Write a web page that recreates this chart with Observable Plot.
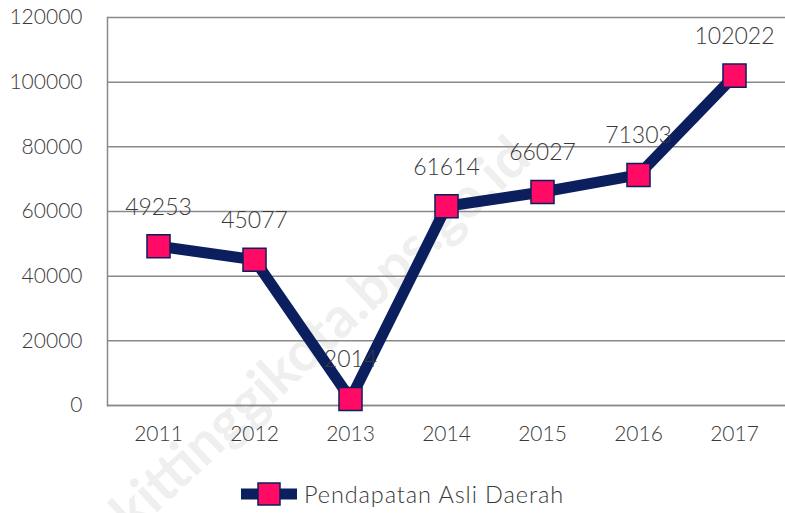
<!DOCTYPE html>
<html>
<head>
<meta charset="utf-8">
<script src="https://cdn.jsdelivr.net/npm/d3@7"></script>
<script src="https://cdn.jsdelivr.net/npm/@observablehq/plot@0.6"></script>
<style>
  html, body { margin: 0; padding: 0; background: #fff; }
  #wrap { position: relative; width: 785px; height: 513px; overflow: hidden; font-family: Lato, "Open Sans", sans-serif; }
  #wm { position: absolute; left: 72px; top: 535px; font-size: 56px; line-height: 1; font-weight: 700; color: #efefef; transform: rotate(-43deg); transform-origin: left center; white-space: nowrap; pointer-events: none; }
  #legend { position: absolute; left: 10px; top: 474px; width: 785px; height: 39px; display: flex; justify-content: center; align-items: center; font-size: 23.5px; letter-spacing: 0.9px; font-weight: 300; color: #3a3a3a; }
  #legend svg { margin-right: 7px; }
  #chart { position: relative; }
</style>
</head>
<body>
<div id="wrap">
  <div id="wm">bukittinggikota.bps.go.id</div>
  <div id="chart"></div>
  <div id="legend"></div>
</div>
<script>
const years = ["2011", "2012", "2013", "2014", "2015", "2016", "2017"];
const values = [49253, 45077, 2014, 61614, 66027, 71303, 102022];
const yTicks = [0, 20000, 40000, 60000, 80000, 100000, 120000];
const seriesName = "Pendapatan Asli Daerah";

const data = years.map((y, i) => ({year: y, value: values[i]}));
const lineColor = "#0b1f5e";
const markerColor = "#ff0a64";
const textColor = "#3a3a3a";
const font = "Lato, 'Open Sans', sans-serif";

const chart = Plot.plot({
  width: 785,
  height: 470,
  marginTop: 17,
  marginBottom: 65,
  marginLeft: 107,
  marginRight: 0,
  style: {fontFamily: font, fontSize: "21px", fontWeight: 300, color: textColor, background: "transparent"},
  x: {type: "point", domain: years, padding: 0.5, label: null},
  y: {domain: [0, 120000], label: null},
  marks: [
    Plot.gridY(yTicks, {stroke: "#8a8a8a", strokeOpacity: 1, strokeWidth: 1.5}),
    Plot.frame({anchor: "left", stroke: "#8a8a8a", strokeWidth: 1.5}),
    Plot.frame({anchor: "bottom", stroke: "#8a8a8a", strokeWidth: 1.5}),
    Plot.axisY(yTicks, {tickSize: 0, tickPadding: 25, tickFormat: d => String(d), fontSize: 21, fill: textColor}),
    Plot.axisX({tickSize: 0, tickPadding: 21, fontSize: 21, fill: textColor}),
    Plot.line(data, {x: "year", y: "value", stroke: lineColor, strokeWidth: 11, strokeLinejoin: "miter"}),
    Plot.dot(data, {x: "year", y: "value", symbol: "square", r: 13, fill: markerColor, stroke: lineColor, strokeWidth: 1.5}),
    Plot.text(data, {x: "year", y: "value", text: d => String(d.value), dy: -39, fontSize: 23, fill: textColor})
  ]
});
document.getElementById("chart").appendChild(chart);

// legend
const leg = document.getElementById("legend");
leg.innerHTML = `<svg width="56" height="26"><line x1="0" y1="13" x2="56" y2="13" stroke="${lineColor}" stroke-width="11"/><rect x="17" y="2" width="22" height="22" fill="${markerColor}" stroke="${lineColor}" stroke-width="1.5"/></svg><span>${seriesName}</span>`;
</script>
</body>
</html>
